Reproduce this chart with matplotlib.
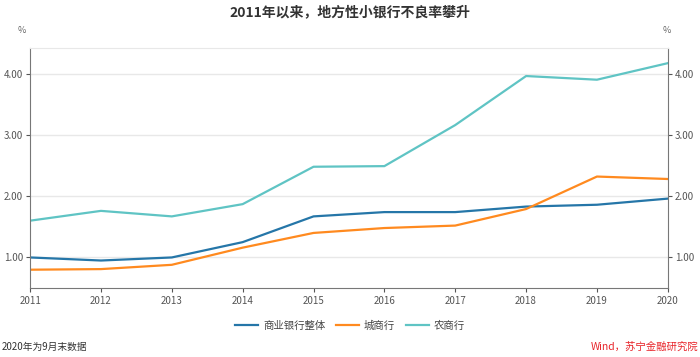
import matplotlib
matplotlib.use("Agg")
import matplotlib.pyplot as plt

plt.rcParams['font.family'] = ['Noto Sans CJK SC', 'DejaVu Sans']

years = ["2011", "2012", "2013", "2014", "2015", "2016", "2017", "2018", "2019", "2020"]
commercial = [1.00, 0.95, 1.00, 1.25, 1.67, 1.74, 1.74, 1.83, 1.86, 1.96]
city = [0.80, 0.81, 0.88, 1.16, 1.40, 1.48, 1.52, 1.79, 2.32, 2.28]
rural = [1.60, 1.76, 1.67, 1.87, 2.48, 2.49, 3.16, 3.96, 3.90, 4.17]
series_names = ["商业银行整体", "城商行", "农商行"]
colors = ["#2576a8", "#ff8a1f", "#5fc4c4"]
yticks = [1.0, 2.0, 3.0, 4.0]

fig = plt.figure(figsize=(7, 3.57), dpi=100)
ax = fig.add_axes([0.043, 0.193, 0.911, 0.673])
x = list(range(len(years)))
for vals, name, c in zip([commercial, city, rural], series_names, colors):
    ax.plot(x, vals, color=c, lw=1.6, label=name)

ax.set_xlim(0, len(years) - 1)
ax.set_ylim(0.5, 4.42)
ax.set_xticks(x)
ax.set_xticklabels(years)
ax.set_yticks(yticks)
ax.set_yticklabels([f"{v:.2f}" for v in yticks])
ax.grid(axis='y', color='#e8e8e8', lw=1)
ax.set_axisbelow(True)
for s in ['left', 'bottom', 'right']:
    ax.spines[s].set_color('#777777')
ax.spines['top'].set_color('#e8e8e8')
ax.tick_params(axis='both', labelsize=7, colors='#555555', length=3, width=0.8)
ax.tick_params(axis='y', labelleft=True, labelright=True, left=True, right=True, pad=2)
ax.tick_params(axis='x', pad=3)

fig.text(0.5, 0.966, "2011年以来，地方性小银行不良率攀升", ha='center', va='center',
         fontsize=10, fontweight='bold', color='#333333')
fig.text(0.031, 0.915, "%", ha='center', va='center', fontsize=6.5, color='#666666')
fig.text(0.953, 0.915, "%", ha='center', va='center', fontsize=6.5, color='#666666')

leg = fig.legend(loc='center', bbox_to_anchor=(0.5, 0.087), ncol=3, frameon=False,
                 fontsize=7.5, handlelength=2.2, columnspacing=1.0, handletextpad=0.5)
for t in leg.get_texts():
    t.set_color('#444444')

fig.text(0.003, 0.028, "2020年为9月末数据", ha='left', va='center', fontsize=7, color='#333333')
fig.text(0.997, 0.028, "Wind，苏宁金融研究院", ha='right', va='center', fontsize=7.5,
         color='#e8252b', style='italic')

fig.savefig("out.png", dpi=100)
